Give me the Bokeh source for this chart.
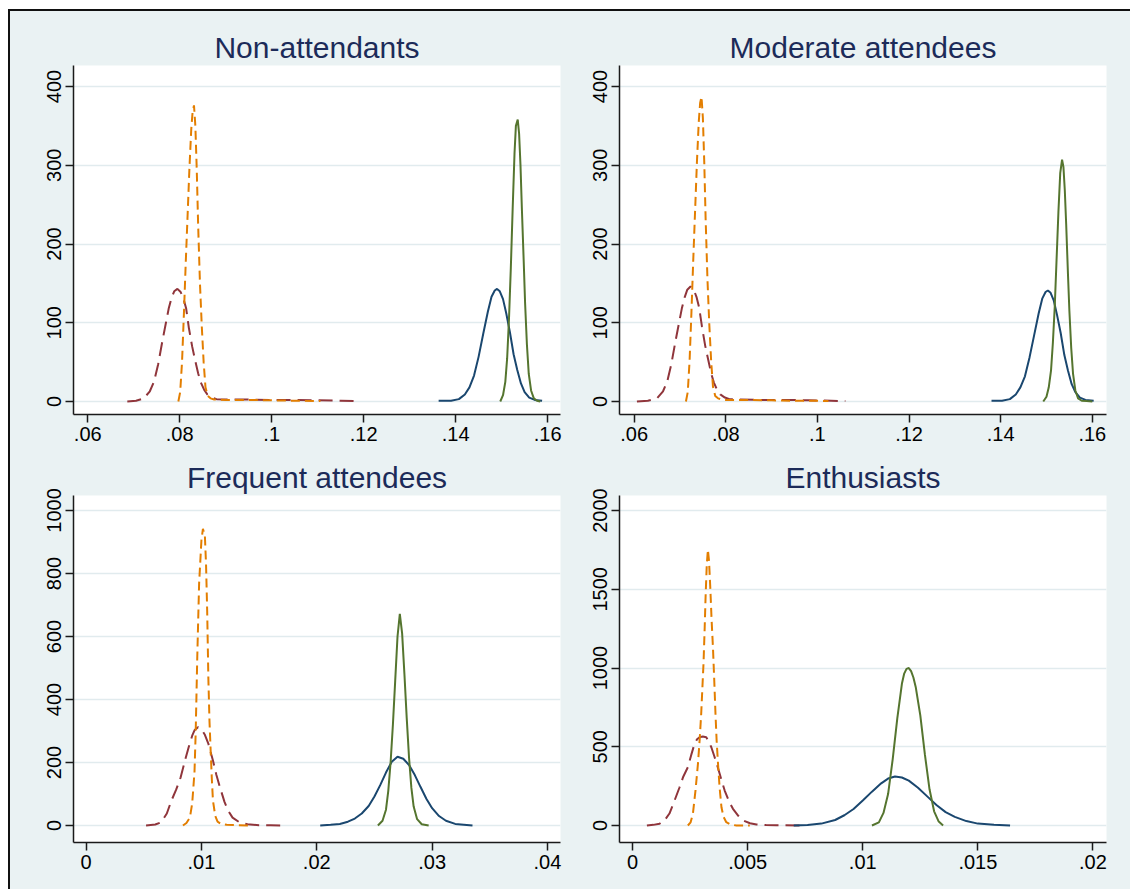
from bokeh.plotting import figure
from bokeh.layouts import column, row
from bokeh.models import FixedTicker
from bokeh.embed import file_html
from bokeh.resources import INLINE

# ---------------- data ----------------
titles = ["Non-attendants", "Moderate attendees", "Frequent attendees", "Enthusiasts"]

top_xticks = [0.06, 0.08, 0.10, 0.12, 0.14, 0.16]
top_xlabels = [".06", ".08", ".1", ".12", ".14", ".16"]
top_yticks = [0, 100, 200, 300, 400]
fre_xticks = [0.0, 0.01, 0.02, 0.03, 0.04]
fre_xlabels = ["0", ".01", ".02", ".03", ".04"]
fre_yticks = [0, 200, 400, 600, 800, 1000]
ent_xticks = [0.0, 0.005, 0.01, 0.015, 0.02]
ent_xlabels = ["0", ".005", ".01", ".015", ".02"]
ent_yticks = [0, 500, 1000, 1500, 2000]

# Non-attendants
na_maroon_x = [.0686, .0705, .0722, .0735, .0744, .0753, .0762, .0770, .0776, .0782, .0788, .0795, .0802, .0808, .0814, .0820, .0827, .0834, .0840, .0846, .0853, .0860, .0870, .0880, .090, .095, .100, .105, .110, .115, .118]
na_maroon_y = [0, 1, 4, 13, 25, 47, 76, 100, 118, 131, 140, 143, 139, 131, 118, 93, 70, 51, 36, 24, 15, 9, 5, 3, 2.5, 2.5, 2, 2, 1.5, 1, 0.5]
na_orange_x = [.0797, .0801, .0805, .0809, .0813, .0817, .0821, .0825, .0828, .0831, .0834, .0837, .0840, .0844, .0848, .0852, .0856, .0861, .0867, .0875, .090, .095, .100, .105, .1106]
na_orange_y = [0, 12, 50, 110, 175, 235, 295, 345, 368, 376, 350, 295, 225, 150, 95, 50, 18, 7, 4, 2.5, 2, 2, 1.5, 1, 0.5]
na_blue_x = [.1363, .1390, .1407, .1420, .1430, .1440, .1450, .1460, .1470, .1478, .1485, .1490, .1496, .1503, .1510, .1518, .1526, .1534, .1542, .1550, .1560, .1572, .1588]
na_blue_y = [1, 1, 3, 9, 18, 33, 57, 86, 114, 133, 141, 143, 140, 130, 112, 88, 60, 40, 23, 12, 5, 2, 1]
na_green_x = [.1497, .1503, .1508, .1512, .1516, .1520, .1524, .1528, .1531, .1535, .1538, .1541, .1544, .1548, .1551, .1555, .1559, .1564, .1570, .1577, .1584]
na_green_y = [0, 8, 25, 55, 105, 170, 245, 315, 350, 358, 340, 300, 245, 178, 125, 72, 35, 14, 4, 1, 0]

# Moderate attendees
mo_maroon_x = [.0606, .0630, .0650, .0663, .0672, .0681, .0690, .0698, .0704, .0710, .0716, .0723, .0730, .0736, .0742, .0748, .0755, .0762, .0768, .0774, .0781, .0788, .0798, .0808, .083, .088, .093, .098, .103, .1061]
mo_maroon_y = [0, 1, 4, 13, 25, 47, 76, 100, 118, 132, 142, 146, 142, 133, 119, 95, 71, 52, 36, 24, 15, 9, 5, 3, 2.5, 2, 2, 1.5, 1, 0.5]
mo_orange_x = [.0713, .0717, .0721, .0725, .0729, .0733, .0737, .0741, .0744, .0747, .0750, .0753, .0756, .0760, .0764, .0768, .0772, .0777, .0783, .0791, .080, .085, .090, .095, .100, .1024]
mo_orange_y = [0, 12, 52, 113, 180, 242, 304, 355, 379, 387, 360, 304, 232, 155, 98, 52, 19, 7, 4, 2.5, 2, 2, 1.5, 1, 1, 0.5]
mo_blue_x = [.1380, .1403, .1420, .1433, .1443, .1453, .1463, .1473, .1483, .1491, .1498, .1503, .1509, .1516, .1523, .1531, .1539, .1547, .1555, .1563, .1573, .1585, .1603]
mo_blue_y = [1, 1, 3, 9, 18, 32, 56, 84, 112, 131, 139, 141, 138, 128, 110, 87, 59, 39, 22, 12, 5, 2, 1]
mo_green_x = [.1493, .1500, .1505, .1510, .1514, .1518, .1522, .1526, .1530, .1534, .1537, .1540, .1543, .1547, .1550, .1554, .1558, .1563, .1569, .1577, .1588, .1600]
mo_green_y = [0, 6, 18, 40, 75, 120, 180, 240, 290, 307, 298, 268, 225, 160, 115, 68, 35, 14, 4, 1, 0.5, 0]

# Frequent attendees
fr_maroon_x = [.0052, .0060, .0065, .0070, .0074, .0078, .0082, .0086, .0089, .0092, .0094, .0097, .0100, .0103, .0106, .0110, .0113, .0116, .0120, .0123, .0127, .0133, .0140, .0150, .0160, .0170]
fr_maroon_y = [0, 3, 10, 38, 79, 113, 153, 210, 249, 285, 302, 312, 305, 288, 260, 206, 160, 122, 75, 48, 25, 10, 4, 1, 0.5, 0]
fr_orange_x = [.0084, .0087, .0090, .0092, .0094, .0095, .00964, .0098, .0100, .01013, .0103, .0104, .0105, .0106, .0107, .0108, .0109, .0110, .0112, .0114, .0117, .0122, .0130, .0143]
fr_orange_y = [0, 8, 25, 70, 170, 291, 534, 768, 905, 942, 920, 830, 680, 470, 330, 238, 150, 79, 30, 12, 5, 2, 1, 0]
fr_blue_x = [.0203, .0212, .0220, .0227, .0233, .0239, .0245, .0250, .0255, .0260, .0265, .0270, .0275, .0280, .0285, .0290, .0295, .0300, .0306, .0312, .0320, .0335]
fr_blue_y = [0, 2, 5, 12, 22, 38, 62, 92, 128, 168, 202, 218, 212, 192, 160, 122, 85, 55, 30, 15, 5, 0]
fr_green_x = [.0253, .0257, .0260, .0262, .0264, .0266, .0268, .0270, .0272, .0274, .0276, .0278, .0280, .0282, .0284, .0287, .0291, .0297]
fr_green_y = [0, 15, 50, 110, 200, 320, 460, 600, 672, 610, 480, 340, 215, 120, 60, 20, 4, 0]

# Enthusiasts
en_maroon_x = [.00062, .00090, .00117, .0014, .0016, .0018, .00204, .0022, .0024, .00255, .00269, .0028, .00291, .00305, .0032, .0033, .00342, .00355, .0037, .00385, .0040, .0042, .00436, .0046, .0048, .0051, .00538, .0058, .00625, .00731]
en_maroon_y = [0, 4, 11, 35, 76, 150, 243, 310, 370, 450, 519, 548, 561, 565, 561, 535, 497, 440, 370, 295, 222, 150, 106, 60, 32, 14, 6, 3, 2, 0]
en_orange_x = [.00240, .00252, .00262, .00273, .00284, .00292, .00298, .00303, .00308, .00313, .00317, .00322, .00327, .00332, .00338, .00343, .00349, .00355, .00360, .00365, .00371, .00378, .00386, .00395, .00407, .00425, .00451, .00509]
en_orange_y = [0, 20, 76, 220, 394, 560, 711, 870, 1029, 1250, 1450, 1650, 1752, 1680, 1493, 1310, 1133, 910, 711, 540, 394, 240, 116, 55, 21, 6, 0, 0]
en_blue_x = [.0070, .0076, .0082, .0088, .0092, .0096, .0100, .0104, .0108, .0111, .0114, .0117, .0120, .0124, .0128, .0132, .0136, .0140, .0145, .0150, .0157, .0164]
en_blue_y = [0, 3, 12, 35, 65, 105, 159, 215, 268, 298, 311, 305, 285, 240, 185, 130, 85, 55, 28, 12, 4, 0]
en_green_x = [.0104, .0107, .0109, .0111, .0113, .0115, .0117, .0118, .0119, .0120, .0121, .0122, .0123, .0125, .0127, .0129, .0131, .0133, .01349]
en_green_y = [0, 20, 80, 200, 420, 680, 900, 965, 995, 1000, 980, 940, 880, 700, 450, 230, 90, 25, 0]

# ---------------- style ----------------
BG = "#EAF2F3"
NAVY = "#1A476F"
MAROON = "#90353B"
GREEN = "#55752F"
ORANGE = "#E37E00"
TITLE_C = "#1C2B59"
FONT = "Liberation Sans"


def panel(title, xr, yr, xticks, xlabels, yticks, curves, w, h, bl, br, bt, bb):
    p = figure(width=w, height=h, x_range=xr, y_range=yr,
               output_backend="svg", toolbar_location=None,
               min_border_left=bl, min_border_right=br,
               min_border_top=bt, min_border_bottom=bb)
    p.background_fill_color = "white"
    p.border_fill_color = BG
    p.outline_line_color = None
    p.title.text = title
    p.title.align = "center"
    p.title.text_font = FONT
    p.title.text_font_size = "30px"
    p.title.text_font_style = "normal"
    p.title.text_color = TITLE_C
    p.title.standoff = 4

    p.xaxis.ticker = FixedTicker(ticks=xticks)
    p.xaxis.major_label_overrides = {t: l for t, l in zip(xticks, xlabels)}
    p.yaxis.ticker = FixedTicker(ticks=yticks)
    p.yaxis.major_label_orientation = "vertical"
    for ax in (p.xaxis[0], p.yaxis[0]):
        ax.axis_line_color = "#1a1a1a"
        ax.axis_line_width = 1.5
        ax.major_tick_line_color = "#1a1a1a"
        ax.major_tick_line_width = 1.5
        ax.major_tick_out = 8
        ax.major_tick_in = 0
        ax.minor_tick_line_color = None
        ax.major_label_text_font = FONT
        ax.major_label_text_font_size = "20px"
        ax.major_label_text_color = "black"
        ax.major_label_standoff = 4
    p.xgrid.visible = False
    p.ygrid.grid_line_color = "#E1EBEE"
    p.ygrid.grid_line_width = 1.5

    for xs, ys, color, dash in curves:
        p.line(xs, ys, line_color=color, line_width=2, line_dash=dash)
    return p


def curves(mx, my, ox, oy, bx, by, gx, gy):
    return [(mx, my, MAROON, "14 7"), (ox, oy, ORANGE, "9 5"),
            (bx, by, NAVY, "solid"), (gx, gy, GREEN, "solid")]


tl = panel(titles[0], (0.0569, 0.1628), (-16.5, 426.7), top_xticks, top_xlabels, top_yticks,
           curves(na_maroon_x, na_maroon_y, na_orange_x, na_orange_y, na_blue_x, na_blue_y, na_green_x, na_green_y),
           573, 439, 63, 23, 54, 36)
tr = panel(titles[1], (0.0568, 0.1631), (-16.5, 426.7), top_xticks, top_xlabels, top_yticks,
           curves(mo_maroon_x, mo_maroon_y, mo_orange_x, mo_orange_y, mo_blue_x, mo_blue_y, mo_green_x, mo_green_y),
           547, 439, 36, 24, 54, 36)
bl = panel(titles[2], (-0.00109, 0.04113), (-54, 1047.6), fre_xticks, fre_xlabels, fre_yticks,
           curves(fr_maroon_x, fr_maroon_y, fr_orange_x, fr_orange_y, fr_blue_x, fr_blue_y, fr_green_x, fr_green_y),
           573, 439, 63, 23, 45, 47)
br = panel(titles[3], (-0.00057, 0.02059), (-108, 2096), ent_xticks, ent_xlabels, ent_yticks,
           curves(en_maroon_x, en_maroon_y, en_orange_x, en_orange_y, en_blue_x, en_blue_y, en_green_x, en_green_y),
           547, 439, 36, 24, 45, 47)

layout = column(row(tl, tr), row(bl, br),
                styles={"border-top": "2px solid #111111", "border-left": "2px solid #111111",
                        "background-color": BG, "margin-top": "9px", "margin-left": "8px"})

open("out.html", "w").write(file_html(layout, INLINE))
